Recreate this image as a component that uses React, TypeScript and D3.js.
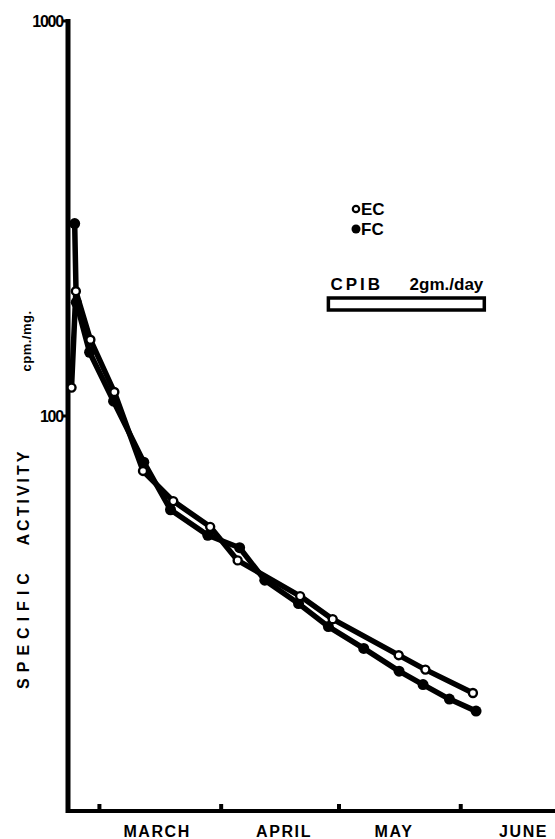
import React from "react";
import * as d3 from "d3";

// days counted from March 1st
const ecDays = [-7.1, -6.0, -2.3, 3.8, 11.1, 18.8, 28.2, 35.2, 51.1, 59.4, 76.2, 83.0, 95.1];
const ecValues = [118, 207, 156, 115, 72.6, 60.9, 52.4, 43.1, 35.0, 30.6, 24.8, 22.8, 19.9];

const fcDays = [-6.3, -5.9, -2.5, 3.6, 11.3, 18.1, 27.6, 35.7, 42.1, 50.7, 58.3, 67.3, 76.3, 82.4, 89.1, 95.9];
const fcValues = [307, 194, 145, 109, 76.4, 57.9, 49.9, 46.4, 38.4, 33.5, 29.3, 25.8, 22.6, 20.9, 19.2, 17.9];

const monthTicks = [0, 31, 61, 92];
const monthLabels = ["MARCH", "APRIL", "MAY", "JUNE"];
const monthLabelDays = [14.7, 47, 75, 108];
const yTicks = [100, 1000];
const cpibPeriod = [58.3, 98];

const W = 555;
const H = 839;
const FONT = "'Liberation Sans', Arial, sans-serif";

export default function App() {
  const x = d3.scaleLinear().domain([-8, 116]).range([68, 555]);
  const y = d3.scaleLog().domain([10, 1000]).range([811, 21]);

  const line = d3
    .line<[number, number]>()
    .x((d) => x(d[0]))
    .y((d) => y(d[1]));

  const ec = ecDays.map((d, i) => [d, ecValues[i]] as [number, number]);
  const fc = fcDays.map((d, i) => [d, fcValues[i]] as [number, number]);

  const axisLeft = x(-8);
  const axisBottom = y(10);

  return (
    <div style={{ position: "absolute", left: 0, top: 0 }}>
      <svg width={W} height={H} style={{ display: "block", background: "#fff" }}>
        {/* axes */}
        <line x1={axisLeft} x2={axisLeft} y1={y(1000) - 2} y2={axisBottom + 2} stroke="#000" strokeWidth={5} />
        <line x1={axisLeft - 2} x2={W} y1={axisBottom} y2={axisBottom} stroke="#000" strokeWidth={4} />
        {monthTicks.map((t) => (
          <line key={t} x1={x(t)} x2={x(t)} y1={axisBottom} y2={axisBottom - 7} stroke="#000" strokeWidth={4} />
        ))}
        {yTicks.map((t) => (
          <g key={t}>
            <line x1={axisLeft - 6} x2={axisLeft} y1={y(t)} y2={y(t)} stroke="#000" strokeWidth={3} />
            <text
              x={axisLeft - 5}
              y={y(t) + 6}
              textAnchor="end"
              fontFamily={FONT}
              fontWeight="bold"
              fontSize={16}
              letterSpacing={-1.2}
            >
              {t}
            </text>
          </g>
        ))}
        {monthLabels.map((m, i) => (
          <text
            key={m}
            x={x(monthLabelDays[i])}
            y={837}
            textAnchor="middle"
            fontFamily={FONT}
            fontWeight="bold"
            fontSize={16}
            letterSpacing={1.6}
          >
            {m}
          </text>
        ))}

        {/* y title */}
        <g fontFamily={FONT} fontWeight="bold">
          <text transform={`translate(29,628) rotate(-90)`} textAnchor="middle" fontSize={16} letterSpacing={6}>
            SPECIFIC
          </text>
          <text transform={`translate(29,497) rotate(-90)`} textAnchor="middle" fontSize={16} letterSpacing={3}>
            ACTIVITY
          </text>
          <text transform={`translate(31,341) rotate(-90)`} textAnchor="middle" fontSize={13} letterSpacing={0.5}>
            cpm./mg.
          </text>
        </g>

        {/* series */}
        <path d={line(fc) || ""} fill="none" stroke="#000" strokeWidth={5.5} strokeLinejoin="round" />
        <path d={line(ec) || ""} fill="none" stroke="#000" strokeWidth={5.5} strokeLinejoin="round" />
        {fc.map((d, i) => (
          <circle key={"f" + i} cx={x(d[0])} cy={y(d[1])} r={5.5} fill="#000" />
        ))}
        {ec.map((d, i) => (
          <circle key={"e" + i} cx={x(d[0])} cy={y(d[1])} r={4} fill="#fff" stroke="#000" strokeWidth={2.4} />
        ))}

        {/* legend */}
        <g fontFamily={FONT} fontWeight="bold" fontSize={17}>
          <circle cx={356} cy={209} r={3.2} fill="#fff" stroke="#000" strokeWidth={2.2} />
          <text x={361} y={215}>EC</text>
          <circle cx={356} cy={229} r={4.5} fill="#000" />
          <text x={361} y={235}>FC</text>
        </g>

        {/* CPIB treatment bar */}
        <g fontFamily={FONT} fontWeight="bold" fontSize={17}>
          <text x={x(cpibPeriod[0]) + 2} y={290} letterSpacing={3}>CPIB</text>
          <text x={x(cpibPeriod[1]) - 1} y={290} textAnchor="end" letterSpacing={0}>2gm./day</text>
          <rect
            x={x(cpibPeriod[0])}
            y={298}
            width={x(cpibPeriod[1]) - x(cpibPeriod[0])}
            height={12}
            fill="#fff"
            stroke="#000"
            strokeWidth={3.5}
          />
        </g>
      </svg>
    </div>
  );
}
